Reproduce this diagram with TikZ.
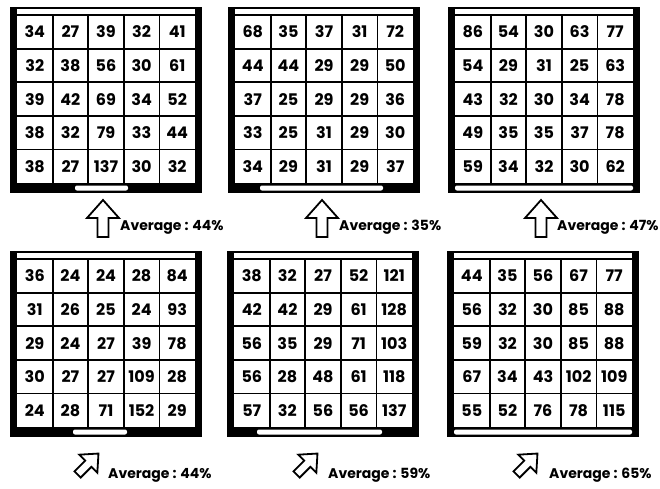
\documentclass[tikz,border=0pt]{standalone}
\usepackage{fontspec}
\setmainfont{Poppins}
\usetikzlibrary{positioning}

\tikzset{
  cellnum/.style={font=\fontsize{16}{16}\selectfont\bfseries, inner sep=0pt},
  gridline/.style={line width=1.8pt},
  avglabel/.style={font=\fontsize{14}{14}\selectfont\bfseries, anchor=west, inner sep=0pt},
  hollowarrow/.style={draw, fill=white, line width=1.8pt, line join=miter},
  bigarrow/.pic={
    \draw[hollowarrow] (0,-18.5) -- (16,-0.5) -- (5.5,-0.5) -- (5.5,18.5)
      -- (-5.5,18.5) -- (-5.5,-0.5) -- (-16,-0.5) -- cycle;
  }
}

% #1 name, #2 x, #3 y, #4/#5 slot in bottom bar, #6 the 25 values
\newcommand{\tablepanel}[6]{%
  \begin{scope}[shift={(#2,#3)}]
    \fill (0,0) rectangle (7,186);
    \fill (185,0) rectangle (192,186);
    \draw[line width=2pt] (0,1) -- (192,1);
    \fill (0,176) rectangle (192,186);
    \fill[white, rounded corners=2pt] (#4,178.5) rectangle (#5,183.5);
    \foreach \k in {0,...,4} \draw[gridline] (7,{8+33.6*\k}) -- (185,{8+33.6*\k});
    \foreach \k in {1,...,4} \draw[gridline] ({7+35.6*\k},8) -- ({7+35.6*\k},176);
    \foreach \v [count=\i from 0] in {#6} {
      \pgfmathtruncatemacro{\col}{mod(\i,5)}
      \pgfmathtruncatemacro{\row}{div(\i,5)}
      \node[cellnum] (#1-\row-\col) at ({24.8+35.6*\col},{25+33.6*\row}) {\v};
    }
  \end{scope}}

\begin{document}
\begin{tikzpicture}[x=1pt, y=-1pt]
  \fill[white] (0,0) rectangle (660,488);
  \useasboundingbox (0,0) rectangle (660,488);

  % --- Top row ---
  \tablepanel{ta}{10}{7}{65}{118}{34,27,39,32,41, 32,38,56,30,61, 39,42,69,34,52, 38,32,79,33,44, 38,27,137,30,32}
  \tablepanel{tb}{228}{7}{32}{155}{68,35,37,31,72, 44,44,29,29,50, 37,25,29,29,36, 33,25,31,29,30, 34,29,31,29,37}
  \tablepanel{tc}{448}{7}{7}{185}{86,54,30,63,77, 54,29,31,25,63, 43,32,30,34,78, 49,35,35,37,78, 59,34,32,30,62}

  \pic (upa) at (103,218.5) {bigarrow};
  \pic (upb) at (322,218.5) {bigarrow};
  \pic (upc) at (541,218.5) {bigarrow};
  \node[avglabel] (avga) at (120,227) {Average : 44\%};
  \node[avglabel] (avgb) at (339,227) {Average : 35\%};
  \node[avglabel] (avgc) at (557,227) {Average : 47\%};

  % --- Bottom row ---
  \tablepanel{ba}{10}{251}{63}{117}{36,24,24,28,84, 31,26,25,24,93, 29,24,27,39,78, 30,27,27,109,28, 24,28,71,152,29}
  \tablepanel{bb}{227}{251}{30}{155}{38,32,27,52,121, 42,42,29,61,128, 56,35,29,71,103, 56,28,48,61,118, 57,32,56,56,137}
  \tablepanel{bc}{447}{251}{7}{185}{44,35,56,67,77, 56,32,30,85,88, 59,32,30,85,88, 67,34,43,102,109, 55,52,76,78,115}

  \pic[rotate=-45, scale=0.8] (nea) at (88,464) {bigarrow};
  \pic[rotate=-45, scale=0.8] (neb) at (307,464) {bigarrow};
  \pic[rotate=-45, scale=0.8] (nec) at (527,464) {bigarrow};
  \node[avglabel] (avgd) at (108,475) {Average : 44\%};
  \node[avglabel] (avge) at (328,475) {Average : 59\%};
  \node[avglabel] (avgf) at (549,475) {Average : 65\%};
\end{tikzpicture}
\end{document}
